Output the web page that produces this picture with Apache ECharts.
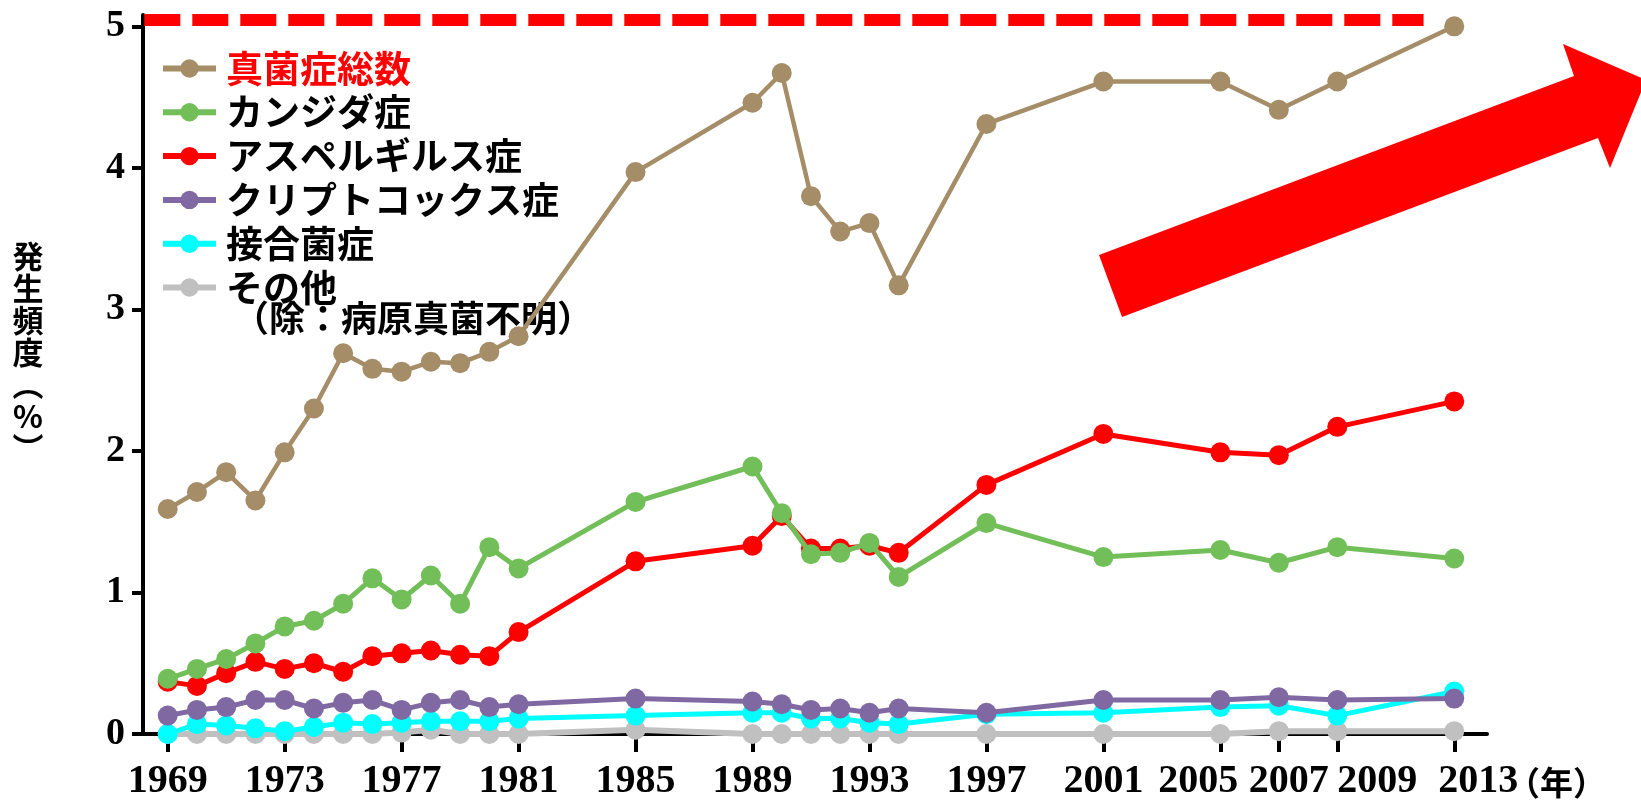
<!DOCTYPE html>
<html>
<head>
<meta charset="utf-8">
<script src="https://cdn.jsdelivr.net/npm/echarts@6/dist/echarts.min.js"></script>
<style>
  html, body { margin: 0; padding: 0; background: #fff; }
  #main { width: 1641px; height: 802px; }
</style>
</head>
<body>
<div id="main"></div>
<script>
// 年
var years = [1969, 1970, 1971, 1972, 1973, 1974, 1975, 1976, 1977, 1978, 1979, 1980, 1981,
  1985, 1989, 1990, 1991, 1992, 1993, 1994, 1997, 2001, 2005, 2007, 2009, 2013];
var tickYears = [1969, 1973, 1977, 1981, 1985, 1989, 1993, 1997, 2001, 2005, 2007, 2009, 2013];
var yTicks = [0, 1, 2, 3, 4, 5];

// 発生頻度（%）
var total = [1.59, 1.71, 1.85, 1.65, 1.99, 2.30, 2.69, 2.58, 2.56, 2.63, 2.62, 2.70, 2.81,
  3.97, 4.46, 4.67, 3.80, 3.55, 3.61, 3.17, 4.31, 4.61, 4.61, 4.41, 4.61, 5.00];
var candida = [0.39, 0.46, 0.53, 0.64, 0.76, 0.80, 0.92, 1.10, 0.95, 1.12, 0.92, 1.32, 1.17,
  1.64, 1.89, 1.56, 1.27, 1.28, 1.35, 1.11, 1.49, 1.25, 1.30, 1.21, 1.32, 1.24];
var aspergillus = [0.37, 0.34, 0.43, 0.51, 0.46, 0.50, 0.44, 0.55, 0.57, 0.59, 0.56, 0.55, 0.72,
  1.22, 1.33, 1.54, 1.31, 1.31, 1.33, 1.28, 1.76, 2.12, 1.99, 1.97, 2.17, 2.35];
var cryptococcus = [0.13, 0.17, 0.19, 0.24, 0.24, 0.18, 0.22, 0.24, 0.17, 0.22, 0.24, 0.19, 0.21,
  0.25, 0.23, 0.21, 0.17, 0.18, 0.15, 0.18, 0.15, 0.24, 0.24, 0.26, 0.24, 0.25];
var zygomycosis = [0.00, 0.07, 0.06, 0.04, 0.02, 0.05, 0.08, 0.07, 0.08, 0.09, 0.09, 0.09, 0.11,
  0.13, 0.15, 0.15, 0.11, 0.11, 0.08, 0.07, 0.14, 0.15, 0.19, 0.20, 0.13, 0.30];
var other = [0, 0, 0, 0, 0, 0, 0, 0, 0.01, 0.03, 0, 0, 0,
  0.03, 0, 0, 0, 0, 0, 0, 0, 0, 0, 0.02, 0.02, 0.02];

// 上の赤い破線
var refLine = { from: 1968.2, to: 2011.95, value: 5.045 };

var names = ["真菌症総数", "カンジダ症", "アスペルギルス症", "クリプトコックス症", "接合菌症", "その他"];
var yTitle = "発\n生\n頻\n度\n︵\n%\n︶";

var cjk = "'Noto Sans CJK JP', sans-serif";
var serif = "'Liberation Serif', 'DejaVu Serif', serif";

// 右端の年ラベルは元の図でも少しずらしてある（重なり回避）
var labelRich = {
  y2005: { padding: [0, 44, 0, 0] },
  y2007: { padding: [0, 0, 0, 20] },
  y2009: { padding: [0, 0, 0, 80] },
  y2013: { padding: [0, 0, 0, 48] }
};

function pairs(vals) {
  return years.map(function (y, i) { return [y, vals[i]]; });
}

function lineSeries(name, vals, color, width, z) {
  return {
    name: name,
    type: "line",
    data: pairs(vals),
    symbol: "circle",
    symbolSize: 20,
    z: z,
    itemStyle: { color: color },
    lineStyle: { color: color, width: width }
  };
}

var myChart = echarts.init(document.getElementById("main"));

// 描画順：その他が一番下、総数が一番上
var series = [
  lineSeries(names[5], other, "#c0c0c0", 6, 2),
  lineSeries(names[4], zygomycosis, "#00ffff", 5, 3),
  lineSeries(names[3], cryptococcus, "#8069a2", 5, 4),
  lineSeries(names[2], aspergillus, "#ff0000", 5, 5),
  lineSeries(names[1], candida, "#72bf5a", 5, 6),
  lineSeries(names[0], total, "#a58d68", 4.5, 7)
];
series[5].markLine = {
  silent: true,
  symbol: ["none", "none"],
  label: { show: false },
  lineStyle: { color: "#ff0000", width: 12, type: [36, 12], opacity: 1 },
  data: [[{ coord: [refLine.from, refLine.value] }, { coord: [refLine.to, refLine.value] }]]
};

myChart.setOption({
  animation: false,
  backgroundColor: "#fff",
  grid: { left: 143, right: 154, top: 15, bottom: 68 },
  legend: {
    orient: "vertical",
    left: 155,
    top: 45,
    itemWidth: 53,
    itemHeight: 23,
    itemGap: 6.8,
    lineStyle: { width: 6 },
    textStyle: {
      fontFamily: cjk,
      fontSize: 37,
      fontWeight: "bold",
      lineHeight: 36,
      color: "#000",
      padding: [0, 0, 0, 5]
    },
    data: [
      { name: names[0], textStyle: { color: "#ff0000" } },
      names[1], names[2], names[3], names[4], names[5]
    ]
  },
  xAxis: {
    type: "value",
    min: 1968.155,
    max: 2014.12,
    name: "（年）",
    nameLocation: "end",
    nameGap: 20,
    nameMoveOverlap: false,
    nameTextStyle: {
      fontFamily: cjk,
      fontSize: 33,
      fontWeight: "bold",
      color: "#000",
      verticalAlign: "top",
      padding: [32, 0, 0, 0]
    },
    splitLine: { show: false },
    axisLine: { show: true, onZero: false, lineStyle: { color: "#000", width: 4 } },
    axisTick: { show: true, length: 18, lineStyle: { color: "#000", width: 4 }, customValues: tickYears },
    axisLabel: {
      customValues: tickYears,
      hideOverlap: false,
      margin: 28,
      fontFamily: serif,
      fontSize: 40,
      fontWeight: "bold",
      color: "#000",
      rich: labelRich,
      formatter: function (v) {
        var key = "y" + v;
        return labelRich[key] ? "{" + key + "|" + v + "}" : String(v);
      }
    }
  },
  yAxis: {
    type: "value",
    min: 0,
    max: 5.08,
    splitLine: { show: false },
    axisLine: { show: true, lineStyle: { color: "#000", width: 4 } },
    axisTick: { show: true, length: 11, lineStyle: { color: "#000", width: 4 }, customValues: yTicks },
    axisLabel: {
      customValues: yTicks,
      margin: 18,
      fontFamily: serif,
      fontSize: 38,
      fontWeight: "bold",
      color: "#000"
    }
  },
  graphic: [
    {
      // 縦書きの軸タイトル
      type: "text",
      x: 28,
      y: 240,
      style: {
        text: yTitle,
        align: "center",
        verticalAlign: "top",
        fontFamily: cjk,
        fontSize: 31,
        lineHeight: 32,
        fontWeight: "bold",
        fill: "#000"
      }
    },
    {
      // その他の2行目
      type: "text",
      left: 233,
      top: 300,
      style: {
        text: "（除：病原真菌不明）",
        fontFamily: cjk,
        fontSize: 36,
        fontWeight: "bold",
        fill: "#000"
      }
    },
    {
      // 増加傾向の矢印
      type: "polygon",
      z: 100,
      shape: {
        points: [[1099, 255], [1574, 76], [1563, 44], [1646, 80], [1610, 168], [1598, 138], [1122, 317]]
      },
      style: { fill: "#ff0000" }
    }
  ],
  series: series
});

window.onresize = function () {
  myChart.resize();
};
</script>
</body>
</html>
